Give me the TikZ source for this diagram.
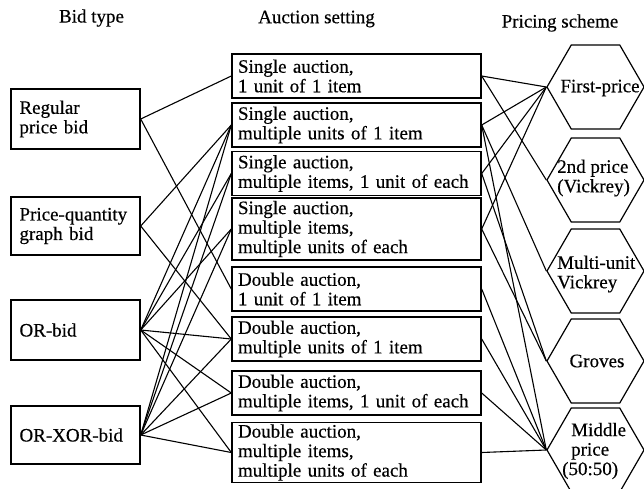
\documentclass[tikz,border=0pt]{standalone}
\usepackage{fontspec}
\setmainfont{Liberation Serif}[FakeBold=0.4]
\usetikzlibrary{shapes.geometric}
\begin{document}
\begin{tikzpicture}[x=1pt,y=-1pt,
  every node/.style={font=\fontsize{19}{19.5}\selectfont},
  bidbox/.style={draw, line width=1.4pt, minimum width=129pt, text width=112pt, inner xsep=8.5pt, inner ysep=1pt, align=left},
  aucbox/.style={draw, line width=1.4pt, minimum width=249pt, text width=237pt, inner xsep=6pt, inner ysep=0.5pt, align=left},
  hexa/.style={draw, line width=1.2pt, regular polygon, regular polygon sides=6, minimum size=97pt, inner sep=0pt},
  hextext/.style={align=left, anchor=west, inner sep=0pt},
  link/.style={line width=1.1pt}]
\useasboundingbox (0,0) rectangle (644,488);
\fill[white] (0,0) rectangle (644,488);

% headers
\node (hb) at (91.5,18) {Bid type};
\node (ha) at (316.5,19) {Auction setting};
\node (hp) at (560,23) {Pricing scheme};

% bid types
\node[bidbox, minimum height=60pt] (R) at (75.5,119) {Regular\\price bid};
\node[bidbox, minimum height=58pt] (P) at (75.5,226) {Price-quantity\\graph bid};
\node[bidbox, minimum height=60pt] (O) at (75.5,330) {OR-bid};
\node[bidbox, minimum height=58pt] (X) at (75.5,435) {OR-XOR-bid};

% auction settings
\node[aucbox, minimum height=44pt] (A1) at (356.5,76) {Single auction,\\1 unit of 1 item};
\node[aucbox, minimum height=44pt] (A2) at (356.5,125) {Single auction,\\multiple units of 1 item};
\node[aucbox, minimum height=44pt] (A3) at (356.5,173.5) {Single auction,\\multiple items, 1 unit of each};
\node[aucbox, minimum height=62pt] (A4) at (356.5,229) {Single auction,\\multiple items,\\multiple units of each};
\node[aucbox, minimum height=44pt] (A5) at (356.5,289) {Double auction,\\1 unit of 1 item};
\node[aucbox, minimum height=44pt] (A6) at (356.5,339) {Double auction,\\multiple units of 1 item};
\node[aucbox, minimum height=44pt] (A7) at (356.5,393) {Double auction,\\multiple items, 1 unit of each};
\node[aucbox, minimum height=60pt] (A8) at (356.5,452.5) {Double auction,\\multiple items,\\multiple units of each};

% pricing schemes
\node[hexa] (F) at (595.5,87) {};
\node[hexa] (S) at (595.5,180) {};
\node[hexa] (M) at (595.5,271) {};
\node[hexa] (G) at (595.5,361) {};
\node[hexa] (Mi) at (595.5,450) {};
\node (Ft) at (600,88) {First-price};
\node[hextext] (St) at (557,178) {2nd price\\(Vickrey)};
\node[hextext] (Mt) at (557,274) {Multi-unit\\Vickrey};
\node (Gt) at (597,361) {Groves};
\node[hextext] (Mit) at (571,451) {Middle\\price\\\hspace*{-9pt}(50:50)};

% bid type -> auction setting
\foreach \a/\b in {R/A1,R/A5,P/A2,P/A6,O/A2,O/A3,O/A4,O/A6,O/A7,O/A8,X/A2,X/A3,X/A4,X/A6,X/A7,X/A8}
  \draw[link] (\a.east) -- (\b.west);

% auction setting -> pricing scheme
\foreach \a/\b in {A1/F,A1/S,A2/F,A2/M,A2/Mi,A3/F,A3/G,A4/F,A4/G,A5/Mi,A6/Mi,A7/Mi,A8/Mi}
  \draw[link] (\a.east) -- (\b.west);
\end{tikzpicture}
\end{document}
